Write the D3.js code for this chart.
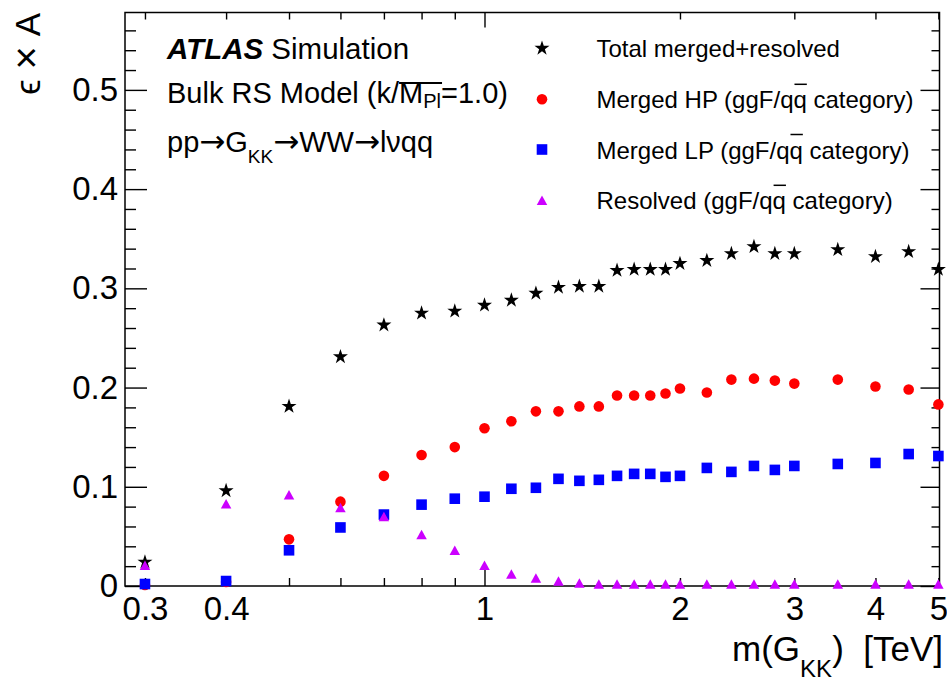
<!DOCTYPE html>
<html>
<head>
<meta charset="utf-8">
<script src="https://cdn.jsdelivr.net/npm/d3@7"></script>
<style>
  html, body { margin: 0; padding: 0; background: #fff; }
  svg { display: block; }
  text { font-family: "Liberation Sans", Arial, Helvetica, sans-serif; fill: #000; }
</style>
</head>
<body>
<svg id="chart" width="947" height="682"></svg>
<script>
// ---- data ----
const masses = [0.3,0.4,0.5,0.6,0.7,0.8,0.9,1.0,1.1,1.2,1.3,1.4,1.5,1.6,1.7,1.8,1.9,2.0,2.2,2.4,2.6,2.8,3.0,3.5,4.0,4.5,5.0];
const totalMergedResolved = [0.024,0.096,0.181,0.231,0.263,0.275,0.277,0.283,0.288,0.295,0.301,0.302,0.302,0.318,0.319,0.319,0.319,0.325,0.328,0.335,0.342,0.335,0.335,0.339,0.332,0.337,0.319];
const mergedHP = [0.001,0.004,0.047,0.085,0.111,0.132,0.140,0.159,0.166,0.176,0.176,0.181,0.181,0.192,0.192,0.192,0.194,0.199,0.195,0.208,0.209,0.207,0.204,0.208,0.201,0.198,0.183];
const mergedLP = [0.002,0.005,0.036,0.059,0.072,0.082,0.088,0.090,0.098,0.099,0.108,0.106,0.107,0.111,0.113,0.113,0.110,0.111,0.119,0.115,0.121,0.117,0.121,0.123,0.124,0.133,0.131];
const resolved = [0.021,0.083,0.092,0.079,0.070,0.052,0.036,0.021,0.012,0.008,0.005,0.003,0.002,0.002,0.002,0.002,0.002,0.002,0.002,0.002,0.002,0.002,0.002,0.002,0.002,0.002,0.002];

const xMajorTicks = [1];
const xMinorTicks = [0.3,0.4,0.5,0.6,0.7,0.8,0.9,2,3,4,5];
const xTickLabels = [0.3,0.4,1,2,3,4,5];
const yMajorTicks = [0,0.1,0.2,0.3,0.4,0.5];
const yMinorTicks = d3.range(0.02, 0.57, 0.02).filter(v => Math.abs(v*10 - Math.round(v*10)) > 1e-6);

const legendLabels = ["Total merged+resolved","Merged HP (ggF/qq category)","Merged LP (ggF/qq category)","Resolved (ggF/qq category)"];

// ---- layout ----
const svg = d3.select("#chart");
const L = 125, R = 939.5, T = 12.5, B = 586;
const x = d3.scaleLog().domain([0.2795, 5.02]).range([L, R]);
const y = d3.scaleLinear().domain([0, 0.578]).range([B, T]);

const FONT = '"Liberation Sans", Arial, Helvetica, sans-serif';
const ARROWFONT = '"DejaVu Sans", sans-serif';

function styleAxis(g) {
  g.select(".domain").remove();
  g.selectAll(".tick line").attr("stroke", "#000").attr("stroke-width", 1.4);
  g.attr("font-family", FONT);
}

// bottom axis
svg.append("g").attr("transform", `translate(0,${B})`)
  .call(d3.axisBottom(x).tickValues(xMinorTicks).tickSize(-8).tickPadding(11)
        .tickFormat(d => xTickLabels.includes(d) ? String(d) : ""))
  .call(styleAxis).attr("font-size", 33);
svg.append("g").attr("transform", `translate(0,${B})`)
  .call(d3.axisBottom(x).tickValues(xMajorTicks).tickSize(-17).tickPadding(11)
        .tickFormat(d => String(d)))
  .call(styleAxis).attr("font-size", 33);
// top axis
svg.append("g").attr("transform", `translate(0,${T})`)
  .call(d3.axisTop(x).tickValues(xMinorTicks).tickSize(-7).tickFormat(""))
  .call(styleAxis);
svg.append("g").attr("transform", `translate(0,${T})`)
  .call(d3.axisTop(x).tickValues(xMajorTicks).tickSize(-15).tickFormat(""))
  .call(styleAxis);
// left axis
svg.append("g").attr("transform", `translate(${L},0)`)
  .call(d3.axisLeft(y).tickValues(yMajorTicks).tickSize(-22).tickPadding(7)
        .tickFormat(d => d === 0 ? "0" : d3.format(".1f")(d)))
  .call(styleAxis).attr("font-size", 33);
svg.append("g").attr("transform", `translate(${L},0)`)
  .call(d3.axisLeft(y).tickValues(yMinorTicks).tickSize(-11).tickFormat(""))
  .call(styleAxis);
// right axis
svg.append("g").attr("transform", `translate(${R},0)`)
  .call(d3.axisRight(y).tickValues(yMajorTicks).tickSize(-19).tickFormat(""))
  .call(styleAxis);
svg.append("g").attr("transform", `translate(${R},0)`)
  .call(d3.axisRight(y).tickValues(yMinorTicks).tickSize(-8).tickFormat(""))
  .call(styleAxis);

// frame
svg.append("rect").attr("x", L).attr("y", T).attr("width", R - L).attr("height", B - T)
  .attr("fill", "none").attr("stroke", "#000").attr("stroke-width", 1.5);

// ---- markers ----
const starPath = d3.symbol().type(d3.symbolStar).size(70)();
const triPath = (w, h) => `M0,${-h/2}L${w/2},${h/2}L${-w/2},${h/2}Z`;

function drawSeries(vals, kind, color) {
  const g = svg.append("g");
  masses.forEach((m, i) => drawMarker(g, kind, color, x(m), y(vals[i])));
}
function drawMarker(g, kind, color, cx, cy) {
  if (kind === "star") {
    g.append("path").attr("d", starPath).attr("transform", `translate(${cx},${cy})`).attr("fill", color);
  } else if (kind === "circle") {
    g.append("circle").attr("cx", cx).attr("cy", cy).attr("r", 5.3).attr("fill", color);
  } else if (kind === "square") {
    g.append("rect").attr("x", cx - 5.3).attr("y", cy - 5.3).attr("width", 10.6).attr("height", 10.6).attr("fill", color);
  } else if (kind === "triangle") {
    g.append("path").attr("d", triPath(10.5, 9.5)).attr("transform", `translate(${cx},${cy})`).attr("fill", color);
  }
}

const kinds = ["star","circle","square","triangle"];
const colors = ["#000000","#ff0000","#0000ff","#cc00ff"];
const seriesVals = [totalMergedResolved, mergedHP, mergedLP, resolved];
seriesVals.forEach((vals, i) => drawSeries(vals, kinds[i], colors[i]));

// ---- legend ----
const legY = [57.3, 108.3, 158.5, 209.3];
const legG = svg.append("g");
legendLabels.forEach((lab, i) => {
  drawMarker(legG, kinds[i], colors[i], 542, legY[i] - 9);
  const t = legG.append("text").attr("x", 596.5).attr("y", legY[i]).attr("font-size", 24).text(lab);
  const qi = lab.indexOf("/qq");
  if (qi >= 0) {
    const node = t.node();
    const s = node.getStartPositionOfChar(qi + 2).x;
    const e = node.getEndPositionOfChar(qi + 2).x;
    legG.append("line").attr("x1", s + 1).attr("x2", e)
      .attr("y1", legY[i] - 24).attr("y2", legY[i] - 24)
      .attr("stroke", "#000").attr("stroke-width", 1.5);
  }
});

// ---- header text ----
const h1 = svg.append("text").attr("x", 167).attr("y", 59.3).attr("font-size", 29.5);
h1.append("tspan").attr("font-weight", "bold").attr("font-style", "italic").text("ATLAS");
h1.append("tspan").text("\u00A0Simulation");

const h2 = svg.append("text").attr("x", 167).attr("y", 102.5).attr("font-size", 29);
h2.append("tspan").text("Bulk RS Model (k/M");
h2.append("tspan").attr("font-size", 20).attr("dy", 5).text("Pl");
h2.append("tspan").attr("dy", -5).text("=1.0)");
{
  const node = h2.node();
  const str = "Bulk RS Model (k/M";
  const s = node.getStartPositionOfChar(str.length - 1).x;
  const e = node.getEndPositionOfChar(str.length + 1).x;
  svg.append("line").attr("x1", s).attr("x2", e + 1).attr("y1", 83).attr("y2", 83)
    .attr("stroke", "#000").attr("stroke-width", 1.8);
}

const h3 = svg.append("text").attr("x", 167).attr("y", 151.7).attr("font-size", 29);
h3.append("tspan").text("pp");
h3.append("tspan").attr("font-family", ARROWFONT).attr("font-size", 31).text("\u2192");
h3.append("tspan").text("G");
h3.append("tspan").attr("font-size", 19).attr("dy", 11).text("KK");
h3.append("tspan").attr("dy", -11).attr("font-family", ARROWFONT).attr("font-size", 31).text("\u2192");
h3.append("tspan").text("WW");
h3.append("tspan").attr("font-family", ARROWFONT).attr("font-size", 31).text("\u2192");
h3.append("tspan").text("l\u03BDqq");

// ---- axis titles ----
const xt = svg.append("text").attr("x", 943).attr("y", 661).attr("text-anchor", "end").attr("font-size", 35);
xt.append("tspan").text("m(G");
xt.append("tspan").attr("font-size", 24).attr("dy", 16).text("KK");
xt.append("tspan").attr("dy", -16).text(")\u00A0\u00A0[TeV]");

const yt = svg.append("text").attr("transform", "translate(40,13) rotate(-90)")
  .attr("text-anchor", "end").attr("font-size", 35);
yt.append("tspan").text("\u03F5\u00A0");
yt.append("tspan").attr("font-size", 40).text("\u00D7");
yt.append("tspan").text("\u00A0A");
</script>
</body>
</html>
